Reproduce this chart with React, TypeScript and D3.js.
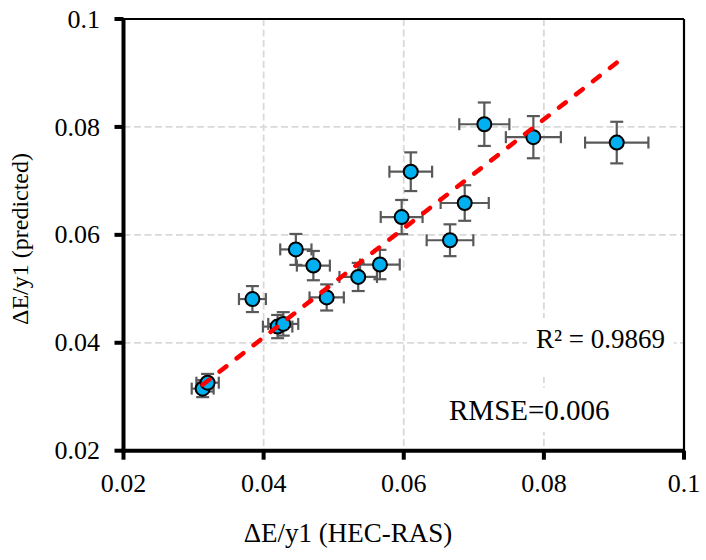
import React from "react";
import * as d3 from "d3";

// ΔE/y1 values: HEC-RAS (x) against predicted (y)
const hecRas = [
  0.0313, 0.032, 0.0384, 0.042, 0.0428, 0.0446, 0.0471, 0.049, 0.0535,
  0.0566, 0.0597, 0.061, 0.0666, 0.0687, 0.0715, 0.0785, 0.0904,
];
const predicted = [
  0.0315, 0.0326, 0.0481, 0.043, 0.0435, 0.0573, 0.0543, 0.0484, 0.0522,
  0.0545, 0.0633, 0.0717, 0.059, 0.0659, 0.0805, 0.0781, 0.0771,
];
const errorPct = 0.05; // percentage error bars on both axes
const trendSlope = 1.01;
const trendIntercept = 0.0006;
const ticks = [0.02, 0.04, 0.06, 0.08, 0.1];
const tickLabels = ["0.02", "0.04", "0.06", "0.08", "0.1"];
const gridTicks = [0.04, 0.06, 0.08];

const width = 706;
const height = 560;
const left = 123.5;
const right = 684;
const top = 19;
const bottom = 450.7;
const font = "'Liberation Serif', 'Times New Roman', serif";

export default function App() {
  const x = d3.scaleLinear([0.02, 0.1], [left, right]);
  const y = d3.scaleLinear([0.02, 0.1], [bottom, top]);
  const points = hecRas.map((v, i) => ({ x: v, y: predicted[i] }));
  const [x0, x1] = d3.extent(hecRas) as [number, number];
  const trend = d3.line<number>(
    (d) => x(d),
    (d) => y(trendSlope * d + trendIntercept)
  );

  return (
    <svg
      width={width}
      height={height}
      style={{ position: "absolute", left: 0, top: 0, background: "#fff" }}
      fontFamily={font}
    >
      {/* grid */}
      <g stroke="#D9D9D9" strokeWidth={1.8} strokeDasharray="7 3.5">
        {gridTicks.map((t) => (
          <line key={"gx" + t} x1={x(t)} x2={x(t)} y1={top} y2={bottom} />
        ))}
        {gridTicks.map((t) => (
          <line key={"gy" + t} x1={left} x2={right} y1={y(t)} y2={y(t)} />
        ))}
      </g>

      {/* label backgrounds */}
      <rect x={527} y={318} width={147} height={59} fill="#fff" />
      <rect x={442} y={388} width={178} height={44} fill="#fff" />

      {/* error bars */}
      <g stroke="#595959" strokeWidth={2.2} fill="none">
        {points.map((p, i) => {
          const ex = p.x * errorPct;
          const ey = p.y * errorPct;
          const cx = x(p.x);
          const cy = y(p.y);
          return (
            <g key={i}>
              <line x1={x(p.x - ex)} x2={x(p.x + ex)} y1={cy} y2={cy} />
              <line x1={x(p.x - ex)} x2={x(p.x - ex)} y1={cy - 6} y2={cy + 6} />
              <line x1={x(p.x + ex)} x2={x(p.x + ex)} y1={cy - 6} y2={cy + 6} />
              <line x1={cx} x2={cx} y1={y(p.y - ey)} y2={y(p.y + ey)} />
              <line x1={cx - 6.5} x2={cx + 6.5} y1={y(p.y - ey)} y2={y(p.y - ey)} />
              <line x1={cx - 6.5} x2={cx + 6.5} y1={y(p.y + ey)} y2={y(p.y + ey)} />
            </g>
          );
        })}
      </g>

      {/* markers */}
      <g fill="#00B0F0" stroke="#000" strokeWidth={2}>
        {points.map((p, i) => (
          <circle key={i} cx={x(p.x)} cy={y(p.y)} r={7} />
        ))}
      </g>

      {/* linear trendline */}
      <path
        d={trend([x0, x1]) ?? ""}
        fill="none"
        stroke="#FF0000"
        strokeWidth={4.5}
        strokeLinecap="round"
        strokeDasharray="8.5 13"
      />

      {/* frame */}
      <g stroke="#000" fill="none">
        <line x1={left} x2={right} y1={top} y2={top} strokeWidth={2.2} />
        <line x1={right} x2={right} y1={top} y2={bottom} strokeWidth={2.2} />
        <line x1={left} x2={left} y1={top - 1} y2={bottom + 2} strokeWidth={4} />
        <line x1={left - 2} x2={right + 1} y1={bottom} y2={bottom} strokeWidth={4} />
        {ticks.map((t) => (
          <line key={"ty" + t} x1={left - 9} x2={left} y1={y(t)} y2={y(t)} strokeWidth={4} />
        ))}
        {ticks.map((t) => (
          <line key={"tx" + t} x1={x(t)} x2={x(t)} y1={bottom} y2={bottom + 9} strokeWidth={4} />
        ))}
      </g>

      {/* tick labels */}
      <g fontSize={26} fill="#000">
        {ticks.map((t, i) => (
          <text key={"ly" + t} x={100} y={y(t)} dy="0.33em" textAnchor="end">
            {tickLabels[i]}
          </text>
        ))}
        {ticks.map((t, i) => (
          <text key={"lx" + t} x={x(t)} y={492} textAnchor="middle">
            {tickLabels[i]}
          </text>
        ))}
      </g>

      {/* axis titles */}
      <text x={348} y={542} fontSize={27} textAnchor="middle">
        ΔE/y1 (HEC-RAS)
      </text>
      <text
        transform="translate(28,239) rotate(-90)"
        fontSize={24}
        textAnchor="middle"
      >
        ΔE/y1 (predicted)
      </text>

      {/* annotations */}
      <text x={536} y={348} fontSize={27}>
        R² = 0.9869
      </text>
      <text x={449} y={420} fontSize={29}>
        RMSE=0.006
      </text>
    </svg>
  );
}
